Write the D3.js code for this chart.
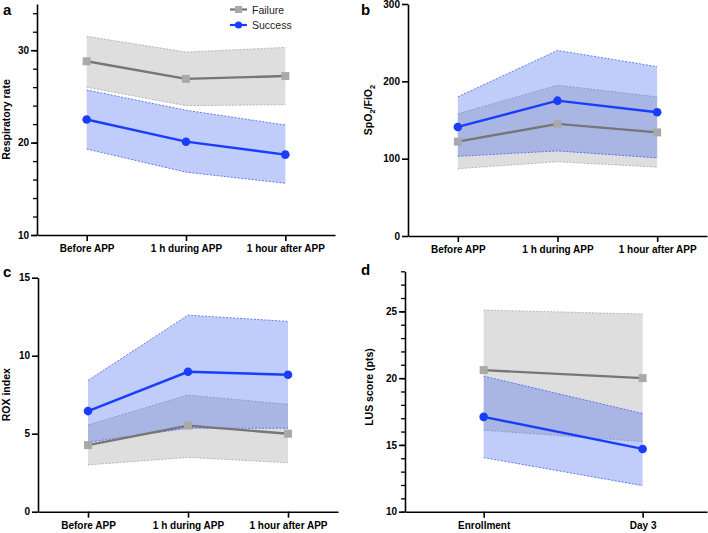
<!DOCTYPE html>
<html lang="en">
<head>
<meta charset="UTF-8">
<title>APP outcomes</title>
<style>
  body { margin: 0; background: #fff; }
  svg { display: block; font-family: "Liberation Sans", Arial, sans-serif; }
  .axis path, .axis line { stroke: #000; stroke-width: 1.6; }
  .axis text { font-size: 10px; font-weight: bold; fill: #000; }
  .minor path { display: none; }
  .minor line { stroke: #000; stroke-width: 1.3; }
</style>
</head>
<body>
<div id="chart"></div>
<script src="https://d3js.org/d3.v7.min.js"></script>
<script>

// categories
const appTimes = ['Before APP', '1 h during APP', '1 hour after APP'];
const lusTimes = ['Enrollment', 'Day 3'];

// a - respiratory rate
const rrFail   = [28.8, 26.9, 27.2];
const rrFailHi = [31.5, 29.8, 30.3];
const rrFailLo = [26.0, 24.0, 24.1];
const rrSucc   = [22.5, 20.1, 18.7];
const rrSuccHi = [25.7, 23.5, 21.9];
const rrSuccLo = [19.3, 16.8, 15.6];

// b - SpO2/FiO2
const sfFail   = [122, 145, 134];
const sfFailHi = [158, 195, 180];
const sfFailLo = [87, 96, 89];
const sfSucc   = [141, 175, 160];
const sfSuccHi = [180, 240, 219];
const sfSuccLo = [103, 110, 101];

// c - ROX index
const roxFail   = [4.27, 5.52, 5.0];
const roxFailHi = [5.56, 7.48, 6.88];
const roxFailLo = [3.0, 3.48, 3.14];
const roxSucc   = [6.45, 8.97, 8.78];
const roxSuccHi = [8.42, 12.6, 12.2];
const roxSuccLo = [4.45, 5.35, 5.35];

// d - LUS score
const lusFail   = [20.6, 20.0];
const lusFailHi = [25.1, 24.8];
const lusFailLo = [16.1, 15.25];
const lusSucc   = [17.1, 14.7];
const lusSuccHi = [20.15, 17.35];
const lusSuccLo = [14.05, 11.95];

const failColor = '#767676', failMarker = '#a9a9a9';
const succColor = '#1a3cfb';

let svg = d3.select('#chart').append('svg')
            .attr('width', 708)
            .attr('height', 533);

function zip(cats, mean, hi, lo) {
    return cats.map(function(c, i) { return { cat: c, v: mean[i], hi: hi[i], lo: lo[i] }; });
}

function panel(p) {
    let x = d3.scalePoint().domain(p.cats).range(p.xr).padding(p.pad || 0.5).align(p.align || 0.5);
    let y = d3.scaleLinear().domain(p.yd).range(p.yr);
    let g = svg.append('g');

    let fail = zip(p.cats, p.fail, p.failHi, p.failLo);
    let succ = zip(p.cats, p.succ, p.succHi, p.succLo);

    let area = d3.area().x(d => x(d.cat)).y0(d => y(d.lo)).y1(d => y(d.hi));
    let hiLine = d3.line().x(d => x(d.cat)).y(d => y(d.hi));
    let loLine = d3.line().x(d => x(d.cat)).y(d => y(d.lo));
    let line = d3.line().x(d => x(d.cat)).y(d => y(d.v));

    // bands
    g.append('path').datum(fail).attr('d', area).attr('fill', '#dedede');
    [hiLine, loLine].forEach(function(l) {
        g.append('path').datum(fail).attr('d', l)
         .attr('fill', 'none').attr('stroke', '#a8a8a8')
         .attr('stroke-width', 0.8).attr('stroke-dasharray', '2,1.5');
    });
    g.append('path').datum(succ).attr('d', area).attr('fill', 'rgba(60,100,240,0.32)');
    [hiLine, loLine].forEach(function(l) {
        g.append('path').datum(succ).attr('d', l)
         .attr('fill', 'none').attr('stroke', '#3f62f5')
         .attr('stroke-width', 0.8).attr('stroke-dasharray', '2,1.5');
    });

    // axes
    if (p.minor) {
        g.append('g').attr('class', 'minor')
         .attr('transform', `translate(${p.xr[0]},0)`)
         .call(d3.axisLeft(y).tickValues(p.minor).tickSize(4).tickFormat(''));
    }
    g.append('g').attr('class', 'axis')
     .attr('transform', `translate(${p.xr[0]},0)`)
     .call(d3.axisLeft(y).tickValues(p.major).tickSize(6).tickSizeOuter(0).tickPadding(2));
    g.append('g').attr('class', 'axis')
     .attr('transform', `translate(0,${p.yr[0]})`)
     .call(d3.axisBottom(x).tickSize(6).tickSizeOuter(0).tickPadding(4));

    // lines + markers
    g.append('path').datum(fail).attr('d', line)
     .attr('fill', 'none').attr('stroke', failColor).attr('stroke-width', 2.4);
    g.selectAll('.sq').data(fail).enter().append('rect')
     .attr('x', d => x(d.cat) - 4).attr('y', d => y(d.v) - 4)
     .attr('width', 8).attr('height', 8).attr('fill', failMarker);
    g.append('path').datum(succ).attr('d', line)
     .attr('fill', 'none').attr('stroke', succColor).attr('stroke-width', 2.4);
    g.selectAll('.dot').data(succ).enter().append('circle')
     .attr('cx', d => x(d.cat)).attr('cy', d => y(d.v))
     .attr('r', 4.3).attr('fill', succColor);

    // panel letter
    svg.append('text').attr('x', p.letterX).attr('y', p.letterY)
       .style('font-size', '15px').style('font-weight', 'bold').text(p.letter);

    // y title
    let cy = p.titleY || (p.yr[0] + p.yr[1]) / 2;
    let t = svg.append('text')
       .attr('transform', `translate(${p.titleX},${cy}) rotate(-90)`)
       .attr('text-anchor', 'middle')
       .style('font-size', '10.5px').style('font-weight', 'bold');
    p.title.forEach(function(part) {
        let s = t.append('tspan').text(part.t);
        if (part.sub) s.attr('dy', 3).style('font-size', '7.5px');
        else if (part.back) s.attr('dy', -3);
    });
}

panel({ letter: 'a', letterX: 3, letterY: 15, cats: appTimes, xr: [37, 335], yr: [235, 4], yd: [10, 35],
        major: [10, 20, 30], minor: d3.range(10, 35, 2),
        fail: rrFail, failHi: rrFailHi, failLo: rrFailLo, succ: rrSucc, succHi: rrSuccHi, succLo: rrSuccLo,
        titleX: 10, title: [{ t: 'Respiratory rate' }] });

panel({ letter: 'b', letterX: 361, letterY: 15, cats: appTimes, xr: [408, 707], yr: [236, 4], yd: [0, 300],
        major: [0, 100, 200, 300],
        fail: sfFail, failHi: sfFailHi, failLo: sfFailLo, succ: sfSucc, succHi: sfSuccHi, succLo: sfSuccLo,
        titleX: 372, titleY: 110,
        title: [{ t: 'SpO' }, { t: '2', sub: true }, { t: '/FiO', back: true }, { t: '2', sub: true }] });

panel({ letter: 'c', letterX: 3, letterY: 277, cats: appTimes, xr: [38, 338], yr: [511.7, 277.7], yd: [0, 15],
        major: [0, 5, 10, 15],
        fail: roxFail, failHi: roxFailHi, failLo: roxFailLo, succ: roxSucc, succHi: roxSuccHi, succLo: roxSuccLo,
        titleX: 10, title: [{ t: 'ROX index' }] });

panel({ letter: 'd', letterX: 361, letterY: 275, cats: lusTimes, xr: [405, 707], yr: [511.7, 271.3], yd: [10, 28],
        pad: 0.45, align: 0.55, major: [10, 15, 20, 25], minor: d3.range(10, 29, 1),
        fail: lusFail, failHi: lusFailHi, failLo: lusFailLo, succ: lusSucc, succHi: lusSuccHi, succLo: lusSuccLo,
        titleX: 373, titleY: 387, title: [{ t: 'LUS score (pts)' }] });

// legend (panel a)
let legend = svg.append('g').attr('transform', 'translate(230,0)');
let items = [{ name: 'Failure', y: 9.5, color: failColor, marker: 'sq' },
             { name: 'Success', y: 25, color: succColor, marker: 'dot' }];
items.forEach(function(it) {
    legend.append('line').attr('x1', 0).attr('x2', 17).attr('y1', it.y).attr('y2', it.y)
          .attr('stroke', it.color).attr('stroke-width', 2.2);
    if (it.marker === 'sq') {
        legend.append('rect').attr('x', 5).attr('y', it.y - 3.5).attr('width', 7).attr('height', 7).attr('fill', failMarker);
    } else {
        legend.append('circle').attr('cx', 8.5).attr('cy', it.y).attr('r', 3.6).attr('fill', succColor);
    }
    legend.append('text').attr('x', 22).attr('y', it.y + 4)
          .style('font-size', '10.5px').attr('fill', '#222').text(it.name);
});

</script>
</body>
</html>
